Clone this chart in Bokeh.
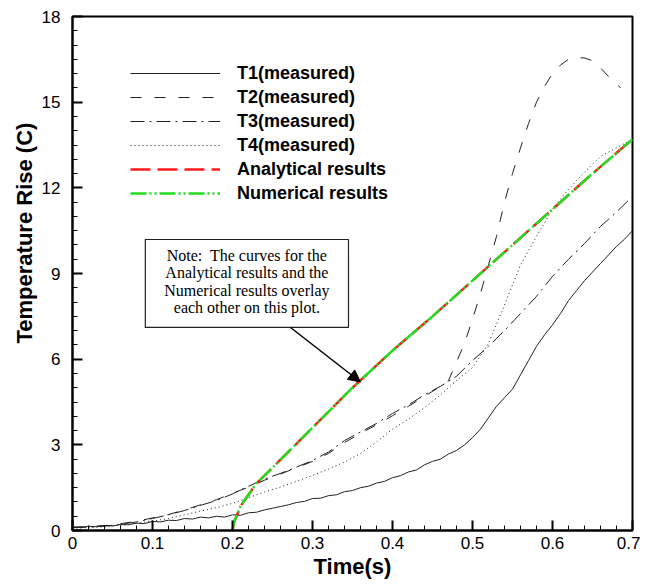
import numpy as np
from bokeh.plotting import figure
from bokeh.models import (Range1d, FixedTicker, NumeralTickFormatter, Legend, LegendItem,
                          BoxAnnotation, Label, Arrow, NormalHead, Title)
from bokeh.embed import file_html
from bokeh.resources import INLINE

# ---------------- data ----------------
t_fine = [round(0.01 * i, 2) for i in range(71)]
T1 = [0.12, 0.10, 0.15, 0.13, 0.18, 0.16, 0.21, 0.20, 0.26, 0.24,
      0.32, 0.30, 0.36, 0.35, 0.42, 0.40, 0.47, 0.44, 0.50, 0.47,
      0.55, 0.53, 0.62, 0.64, 0.72, 0.78, 0.84, 0.90, 0.98, 1.02,
      1.12, 1.13, 1.22, 1.25, 1.36, 1.40, 1.50, 1.55, 1.66, 1.72,
      1.85, 1.92, 2.05, 2.12, 2.30, 2.42, 2.50, 2.68, 2.80, 3.00,
      3.25, 3.55, 3.95, 4.35, 4.65, 4.95, 5.45, 5.95, 6.45, 6.85,
      7.20, 7.60, 8.05, 8.40, 8.75, 9.05, 9.35, 9.65, 9.95, 10.20,
      10.50]

t2 = [0.00, 0.02, 0.04, 0.06, 0.08, 0.10, 0.12, 0.14, 0.16, 0.18, 0.20, 0.22, 0.24,
      0.26, 0.28, 0.30, 0.32, 0.34, 0.36, 0.38, 0.40, 0.42, 0.44, 0.46, 0.47, 0.48,
      0.49, 0.50, 0.51, 0.52, 0.53, 0.54, 0.55, 0.56, 0.57, 0.58, 0.59, 0.60, 0.61,
      0.62, 0.63, 0.64, 0.65, 0.66, 0.67, 0.68, 0.685]
T2 = [0.12, 0.14, 0.17, 0.24, 0.32, 0.44, 0.56, 0.72, 0.90, 1.08, 1.30, 1.52, 1.76,
      1.98, 2.20, 2.42, 2.70, 3.08, 3.40, 3.70, 4.02, 4.35, 4.70, 5.05, 5.25, 5.90,
      6.55, 7.40, 8.30, 9.30, 10.30, 11.50, 12.50, 13.40, 14.25, 15.00, 15.55, 16.00, 16.30,
      16.50, 16.55, 16.55, 16.45, 16.20, 15.90, 15.65, 15.50]

t34 = [round(0.02 * i, 2) for i in range(36)]
T3 = [0.10, 0.12, 0.15, 0.22, 0.30, 0.42, 0.55, 0.70, 0.88, 1.05, 1.28, 1.55,
      1.80, 2.00, 2.22, 2.45, 2.75, 3.15, 3.45, 3.75, 4.10, 4.40, 4.75, 5.05,
      5.40, 5.95, 6.45, 7.00, 7.60, 8.20, 8.90, 9.50, 10.05, 10.65, 11.15, 11.70]
T4 = [0.08, 0.10, 0.13, 0.18, 0.25, 0.33, 0.42, 0.55, 0.68, 0.80, 0.95, 1.15,
      1.35, 1.52, 1.72, 1.93, 2.15, 2.40, 2.70, 3.10, 3.55, 3.90, 4.30, 4.75,
      5.25, 5.70, 6.55, 7.90, 9.30, 10.30, 11.25, 11.95, 12.55, 13.10, 13.40, 13.70]

t_model = [0.200, 0.202, 0.205, 0.21, 0.22, 0.23, 0.25, 0.30, 0.35, 0.40, 0.45,
           0.50, 0.55, 0.60, 0.65, 0.70]
analytical = [0.0, 0.30, 0.50, 0.85, 1.25, 1.65, 2.20, 3.60, 5.00, 6.30, 7.50,
              8.75, 10.00, 11.25, 12.50, 13.70]
numerical = [0.0, 0.30, 0.50, 0.85, 1.25, 1.65, 2.20, 3.60, 5.00, 6.30, 7.50,
             8.75, 10.00, 11.25, 12.50, 13.70]

x_major = [0, 0.1, 0.2, 0.3, 0.4, 0.5, 0.6, 0.7]
y_major = [0, 3, 6, 9, 12, 15, 18]

series_names = ["T1(measured)", "T2(measured)", "T3(measured)", "T4(measured)",
                "Analytical results", "Numerical results"]
note_lines = ["Note:\u00a0 The curves for the", "Analytical results and the",
              "Numerical results overlay", "each other on this plot."]

# ---------------- figure ----------------
p = figure(width=640, height=585, output_backend="svg", toolbar_location=None,
           x_range=Range1d(0, 0.7), y_range=Range1d(0, 18),
           min_border_left=72, min_border_right=8, min_border_top=16, min_border_bottom=55)
p.background_fill_color = "white"
p.border_fill_color = "white"
p.outline_line_color = "black"
p.outline_line_width = 2
p.xgrid.visible = False
p.ygrid.visible = False

x_minor = [round(v, 3) for v in np.arange(0, 0.7001, 0.02)]
y_minor = [round(v, 2) for v in np.arange(0, 18.001, 0.5)]
p.xaxis.ticker = FixedTicker(ticks=x_major, minor_ticks=x_minor)
p.yaxis.ticker = FixedTicker(ticks=y_major, minor_ticks=y_minor)
p.xaxis.formatter = NumeralTickFormatter(format="0.[0]")
p.yaxis.formatter = NumeralTickFormatter(format="0")

for ax in (p.xaxis[0], p.yaxis[0]):
    ax.axis_line_color = "black"
    ax.axis_line_width = 2
    ax.major_tick_in = 10
    ax.major_tick_out = 0
    ax.minor_tick_in = 5
    ax.minor_tick_out = 0
    ax.major_tick_line_color = "black"
    ax.major_tick_line_width = 2
    ax.minor_tick_line_color = "black"
    ax.minor_tick_line_width = 1
    ax.major_label_text_font = "Liberation Sans"
    ax.major_label_text_font_size = "17px"
    ax.major_label_text_color = "black"
p.xaxis.major_label_standoff = 6
p.yaxis.major_label_standoff = 12

p.xaxis.axis_label = "Time(s)"
p.xaxis.axis_label_text_font = "Liberation Sans"
p.xaxis.axis_label_text_font_style = "bold"
p.xaxis.axis_label_text_font_size = "22px"
p.xaxis.axis_label_text_color = "black"
p.xaxis.axis_label_standoff = 2

ytitle = Title(text="Temperature Rise (C)", align="left", offset=187,
               text_font="Liberation Sans", text_font_style="bold",
               text_font_size="22px", text_color="black", standoff=4)
p.add_layout(ytitle, "left")

# ---------------- curves ----------------
r1 = p.line(t_fine, T1, line_color="#222222", line_width=1)
r2 = p.line(t2, T2, line_color="#222222", line_width=1, line_dash="11 13")
r3 = p.line(t34, T3, line_color="#222222", line_width=1, line_dash="14 5 2 5")
r4 = p.line(t34, T4, line_color="#222222", line_width=1, line_dash="1 3")
r5 = p.line(t_model, analytical, line_color="#ff1a1a", line_width=2.5, line_dash="20 7")
r6 = p.line(t_model, numerical, line_color="#22dd22", line_width=2.5, line_dash="16 3 2 3 2 3")

legend = Legend(items=[LegendItem(label=n, renderers=[r]) for n, r in
                       zip(series_names, [r1, r2, r3, r4, r5, r6])],
                location=(58, 325), orientation="vertical",
                glyph_width=90, glyph_height=24, label_height=24, label_standoff=17,
                spacing=0, padding=0, margin=0,
                border_line_alpha=0, background_fill_alpha=0,
                label_text_font="Liberation Sans", label_text_font_style="bold",
                label_text_font_size="18px", label_text_color="black")
p.add_layout(legend, "center")

# ---------------- note box + arrow ----------------
box = BoxAnnotation(left=0.091, right=0.345, bottom=7.11, top=10.19,
                    fill_color="white", fill_alpha=1.0,
                    line_color="#222222", line_width=1.2, line_alpha=1.0)
p.add_layout(box)
for i, txt in enumerate(note_lines):
    p.add_layout(Label(x=0.218, y=9.63 - 0.61 * i, text=txt, text_align="center",
                       text_baseline="middle", text_font="Liberation Serif",
                       text_font_size="16px", text_color="black"))
p.add_layout(Arrow(end=NormalHead(size=12, fill_color="black", line_color="black"),
                   x_start=0.2725, y_start=7.11, x_end=0.36, y_end=5.2,
                   line_color="black", line_width=1.5))

open("out.html", "w").write(file_html(p, INLINE))
